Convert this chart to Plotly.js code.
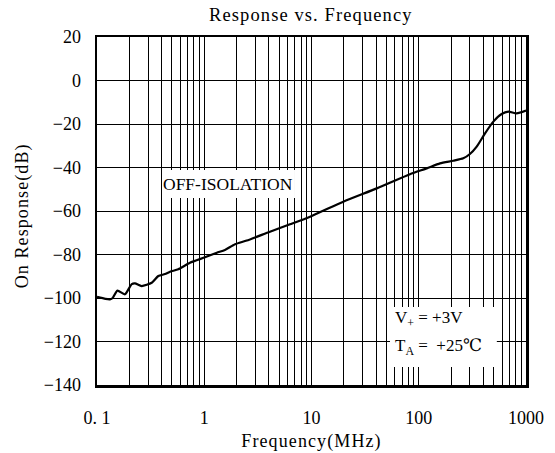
<!DOCTYPE html>
<html>
<head>
<meta charset="utf-8">
<script src="https://cdn.plot.ly/plotly-3.0.1.min.js"></script>
<style>
html,body{margin:0;padding:0;background:#fff;}
#chart{width:555px;height:453px;}
#chart .gtitle, #chart .xtitle, #chart g.annotation[data-index="3"] text { letter-spacing: 1.1px; }
</style>
</head>
<body>
<div id="chart"></div>
<script>
// Data
var freqMHz = [0.1, 0.12, 0.132, 0.14, 0.155, 0.182, 0.211, 0.226, 0.261, 0.324, 0.373, 0.43, 0.48, 0.573, 0.736, 1.016, 1.31, 1.56, 1.94, 2.49, 4.1, 6.3, 9.7, 19.8, 40.6, 82.8, 118.6, 157.8, 210, 260, 300, 347, 415, 496, 593, 684, 818, 1000];
var responseDB = [-99.5, -100.4, -100.6, -100.0, -96.6, -98.3, -93.6, -93.3, -94.5, -93.0, -89.9, -89.0, -87.9, -86.8, -83.8, -81.3, -79.2, -77.9, -75.3, -73.6, -69.5, -66.1, -62.6, -55.7, -49.6, -43.1, -40.4, -38.1, -36.9, -35.8, -33.8, -30.4, -24.3, -18.9, -15.4, -14.3, -15.1, -13.8];
var xTickVals = [0.1, 1, 10, 100, 1000];
var xTickText = ["0. 1", "1", "10", "100", "1000"];
var yTicks = [20, 0, -20, -40, -60, -80, -100, -120, -140];

var FONT = "Liberation Serif, DejaVu Serif, serif";

// minor grid: 2..9 multiples inside each decade
var minorVals = [];
[0.1, 1, 10, 100].forEach(function (d) {
  for (var m = 2; m <= 9; m++) minorVals.push(d * m);
});

var trace = {
  x: freqMHz, y: responseDB, type: "scatter", mode: "lines",
  line: {color: "#000", width: 2.2, shape: "spline", smoothing: 0.6},
  hoverinfo: "skip"
};

var layout = {
  width: 555, height: 453,
  margin: {l: 97, r: 29, t: 37, b: 68, pad: 0},
  paper_bgcolor: "#fff", plot_bgcolor: "#fff",
  showlegend: false,
  font: {family: FONT, color: "#000", size: 18},
  title: {text: "Response vs. Frequency", x: 0.56, xanchor: "center", y: 0.968, yanchor: "middle", font: {family: FONT, size: 18.5, color: "#000"}},
  xaxis: {
    type: "log", range: [-1, 3],
    tickmode: "array", tickvals: xTickVals, ticktext: xTickText,
    showgrid: true, gridcolor: "#000", gridwidth: 1,
    minor: {tickmode: "array", tickvals: minorVals, showgrid: true, gridcolor: "#000", gridwidth: 1, ticks: ""},
    showline: true, linecolor: "#000", linewidth: 2.5, mirror: true,
    ticks: "", zeroline: false, ticklabelstandoff: 15,
    tickfont: {family: FONT, size: 18, color: "#000"},
    title: {text: "Frequency(MHz)", font: {family: FONT, size: 18, color: "#000"}, standoff: 8}
  },
  yaxis: {
    range: [-140, 20], tickmode: "array", tickvals: yTicks,
    showgrid: true, gridcolor: "#000", gridwidth: 1,
    showline: true, linecolor: "#000", linewidth: 2.5, mirror: true,
    ticks: "", zeroline: false, ticklabelstandoff: 10,
    tickfont: {family: FONT, size: 18, color: "#000"}
  },
  shapes: [
    {type: "rect", xref: "paper", yref: "paper", x0: 0.1515, x1: 0.4615, y0: 0.537, y1: 0.618, fillcolor: "#fff", line: {width: 0}, layer: "above"},
    {type: "rect", xref: "paper", yref: "paper", x0: 0.683, x1: 0.932, y0: 0.0517, y1: 0.224, fillcolor: "#fff", line: {width: 0}, layer: "above"}
  ],
  annotations: [
    {xref: "paper", yref: "paper", x: 0.3065, y: 0.577, xanchor: "center", yanchor: "middle", text: "OFF-ISOLATION", showarrow: false, font: {family: FONT, size: 17.5, color: "#000"}},
    {xref: "paper", yref: "paper", x: 0.690, y: 0.19, xanchor: "left", yanchor: "middle", text: "V<sub>+</sub> = +3V", showarrow: false, font: {family: FONT, size: 17, color: "#000"}},
    {xref: "paper", yref: "paper", x: 0.690, y: 0.108, xanchor: "left", yanchor: "middle", text: "T<sub>A</sub> =\u00a0\u00a0+25\u2103", showarrow: false, font: {family: FONT, size: 17, color: "#000"}},
    {xref: "paper", yref: "paper", x: -0.175, y: 0.488, xanchor: "center", yanchor: "middle", textangle: -90, text: "On Response(dB)", showarrow: false, font: {family: FONT, size: 18, color: "#000"}}
  ]
};

Plotly.newPlot("chart", [trace], layout, {displayModeBar: false, staticPlot: true});
</script>
</body>
</html>
